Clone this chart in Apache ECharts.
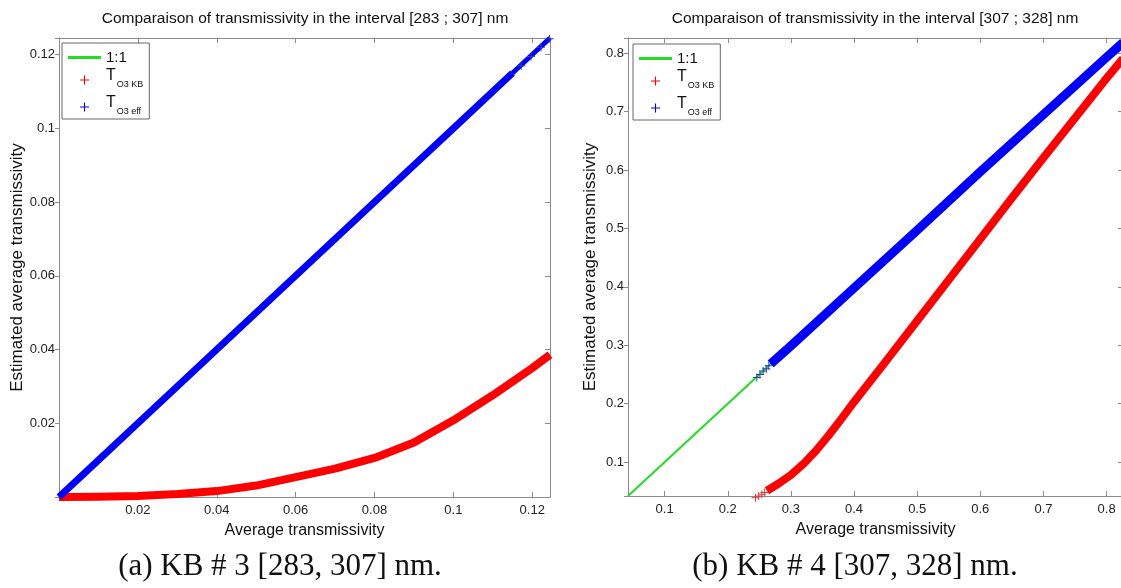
<!DOCTYPE html>
<html>
<head>
<meta charset="utf-8">
<script src="https://cdn.jsdelivr.net/npm/echarts@6/dist/echarts.min.js"></script>
<style>
html,body{margin:0;padding:0;background:#fff;}
#c{width:1121px;height:588px;}
</style>
</head>
<body>
<div id="c"></div>
<script>
// ---------- data ----------
const titleLeft = 'Comparaison of transmissivity in the interval [283 ; 307] nm';
const titleRight = 'Comparaison of transmissivity in the interval [307 ; 328] nm';
const captionLeft = '(a) KB # 3 [283, 307] nm.';
const captionRight = '(b) KB # 4 [307, 328] nm.';
const xName = 'Average transmissivity';
const yName = 'Estimated average transmissivity';
const seriesNames = ['1:1', 'T_O3 KB', 'T_O3 eff'];

const leftTickLabels = ['0.02', '0.04', '0.06', '0.08', '0.1', '0.12'];
const rightTickLabels = ['0.1', '0.2', '0.3', '0.4', '0.5', '0.6', '0.7', '0.8'];

// panel (a)
const leftOneToOne = [[0, 0], [0.1245, 0.1245]];
const leftKB = [[0, 0], [0.01, 0.0001], [0.02, 0.0003], [0.03, 0.0008], [0.04, 0.0016],
  [0.05, 0.0031], [0.06, 0.0054], [0.07, 0.0077], [0.08, 0.0106], [0.09, 0.0148],
  [0.10, 0.0208], [0.11, 0.0276], [0.12, 0.0350], [0.1245, 0.0386]];
const leftEff = [[0, 0], [0.01, 0.0100], [0.02, 0.0200], [0.04, 0.0400], [0.06, 0.0600],
  [0.08, 0.0800], [0.10, 0.1000], [0.115, 0.1150]];
const leftEffTop = [[0.115, 0.1150], [0.1245, 0.1245]];
const leftEffSparse = [[0.1172, 0.1170], [0.1197, 0.1195], [0.1222, 0.1220], [0.1244, 0.1243]];

// panel (b)
const rightOneToOne = [[0.042, 0.042], [0.826, 0.826]];
const rightKB = [[0.262, 0.051], [0.28, 0.063], [0.30, 0.078], [0.32, 0.097],
  [0.34, 0.120], [0.36, 0.146], [0.38, 0.174], [0.40, 0.203], [0.45, 0.272], [0.50, 0.342],
  [0.55, 0.412], [0.60, 0.482], [0.65, 0.552], [0.70, 0.621], [0.75, 0.689], [0.80, 0.757],
  [0.826, 0.791]];
const rightKBSparse = [[0.244, 0.039], [0.249, 0.042], [0.254, 0.045], [0.258, 0.048]];
const rightEff = [[0.268, 0.268], [0.30, 0.299], [0.40, 0.398], [0.50, 0.497], [0.60, 0.597],
  [0.70, 0.695], [0.80, 0.793], [0.826, 0.818]];
const rightEffSparse = [[0.246, 0.245], [0.251, 0.250], [0.256, 0.256], [0.261, 0.260], [0.265, 0.265]];

// ---------- styling ----------
const SANS = '"Liberation Sans", Arial, sans-serif';
const SERIF = '"Liberation Serif", "Times New Roman", serif';
const AXIS = '#8a8a8a';
const GREEN = '#22dd22', RED = '#ff0000', BLUE = '#0000ff';
const PLUS = 'path://M4.4,0H5.6V4.4H10V5.6H5.6V10H4.4V5.6H0V4.4H4.4Z';
const BAR = 'path://M0,0H33V3H0Z';

function fmt(labels) {
  return function (v) {
    const s = String(+(+v).toFixed(4));
    return labels.indexOf(s) >= 0 ? s : '';
  };
}

function makeX(grid, pos, min, max, tickOpt, labels, withName) {
  return Object.assign({
    type: 'value', gridIndex: grid, position: pos, min: min, max: max,
    axisLine: { show: true, onZero: false, lineStyle: { color: AXIS, width: 1 } },
    axisTick: { show: true, inside: true, length: 5, lineStyle: { color: AXIS } },
    axisLabel: withName ? { show: true, color: '#222', fontSize: 13, fontFamily: SANS, margin: 7, formatter: fmt(labels) } : { show: false },
    splitLine: { show: false },
    name: withName ? xName : '',
    nameLocation: 'middle', nameGap: 26,
    nameTextStyle: { color: '#111', fontSize: 16, fontFamily: SANS }
  }, tickOpt);
}
function makeY(grid, pos, min, max, tickOpt, labels, withName, nameGap) {
  return Object.assign({
    type: 'value', gridIndex: grid, position: pos, min: min, max: max,
    axisLine: { show: true, onZero: false, lineStyle: { color: AXIS, width: 1 } },
    axisTick: { show: true, inside: !withName, length: withName ? 4 : 5, lineStyle: { color: AXIS } },
    axisLabel: withName ? { show: true, color: '#222', fontSize: 13, fontFamily: SANS, margin: 4, formatter: fmt(labels) } : { show: false },
    splitLine: { show: false },
    name: withName ? yName : '',
    nameLocation: 'middle', nameGap: nameGap || 30, nameRotate: 90,
    nameTextStyle: { color: '#111', fontSize: 17, fontFamily: SANS }
  }, tickOpt);
}

function legendFor(left, top) {
  return {
    orient: 'vertical', left: left, top: top,
    backgroundColor: '#fff', borderColor: '#666', borderWidth: 1,
    padding: [7, 6, 0, 6], itemGap: 3, itemWidth: 33, itemHeight: 9,
    symbolKeepAspect: true, selectedMode: false,
    data: [
      { name: seriesNames[0], icon: BAR, itemStyle: { color: GREEN, borderWidth: 0 } },
      { name: seriesNames[1], icon: PLUS, itemStyle: { color: RED, borderWidth: 0 } },
      { name: seriesNames[2], icon: PLUS, itemStyle: { color: BLUE, borderWidth: 0 } }
    ],
    formatter: function (name) {
      if (name === '1:1') return '{n|1:1}';
      return '{t|T}{s|' + name.slice(2) + '}';
    },
    textStyle: {
      color: '#111', fontFamily: SANS,
      rich: {
        n: { fontSize: 15, lineHeight: 18, fontFamily: SANS, color: '#111' },
        t: { fontSize: 16, lineHeight: 16, padding: [0, 0, 8, 0], fontFamily: SANS, color: '#111' },
        s: { fontSize: 9, lineHeight: 9, padding: [10, 0, 0, 1], fontFamily: SANS, color: '#111' }
      }
    }
  };
}

function lineSeries(name, data, xi, yi, color, width, z) {
  return {
    name: name, type: 'line', xAxisIndex: xi, yAxisIndex: yi, data: data,
    symbol: 'none', smooth: false, clip: false, silent: true, z: z,
    lineStyle: { color: color, width: width, cap: 'butt', join: 'round' },
    itemStyle: { color: color }
  };
}
function plusSeries(name, data, xi, yi, color, z) {
  return {
    name: name, type: 'scatter', xAxisIndex: xi, yAxisIndex: yi, data: data,
    symbol: PLUS, symbolSize: 8, clip: false, silent: true, z: z,
    itemStyle: { color: color, opacity: 1 }
  };
}

const chart = echarts.init(document.getElementById('c'), null, { renderer: 'canvas' });
chart.setOption({
  animation: false,
  backgroundColor: '#fff',
  grid: [
    { left: 59, top: 38, width: 491, height: 459, containLabel: false, outerBoundsMode: 'none' },
    { left: 628, top: 38, width: 495, height: 458, containLabel: false, outerBoundsMode: 'none' }
  ],
  xAxis: [
    makeX(0, 'bottom', 0, 0.1245, { interval: 0.02 }, leftTickLabels, true),
    makeX(0, 'top', 0, 0.1245, { interval: 0.02 }, leftTickLabels, false),
    makeX(1, 'bottom', 0.042, 0.826, { splitNumber: 8 }, rightTickLabels, true),
    makeX(1, 'top', 0.042, 0.826, { splitNumber: 8 }, rightTickLabels, false)
  ],
  yAxis: [
    makeY(0, 'left', 0, 0.1245, { interval: 0.02 }, leftTickLabels, true, 33),
    makeY(0, 'right', 0, 0.1245, { interval: 0.02 }, leftTickLabels, false),
    makeY(1, 'left', 0.042, 0.826, { splitNumber: 8 }, rightTickLabels, true, 29),
    makeY(1, 'right', 0.042, 0.826, { splitNumber: 8 }, rightTickLabels, false)
  ],
  legend: [legendFor(62, 43), legendFor(633, 44)],
  series: [
    lineSeries(seriesNames[0], leftOneToOne, 0, 0, GREEN, 2, 2),
    lineSeries(seriesNames[1], leftKB, 0, 0, RED, 8, 3),
    lineSeries(seriesNames[2], leftEff, 0, 0, BLUE, 7, 4),
    lineSeries(seriesNames[2], leftEffTop, 0, 0, BLUE, 5, 4),
    plusSeries(seriesNames[2], leftEffSparse, 0, 0, '#2b3fb8', 5),
    lineSeries(seriesNames[0], rightOneToOne, 2, 2, GREEN, 2, 2),
    lineSeries(seriesNames[1], rightKB, 2, 2, RED, 8, 3),
    plusSeries(seriesNames[1], rightKBSparse, 2, 2, '#d83a3a', 3),
    lineSeries(seriesNames[2], rightEff, 2, 2, BLUE, 9, 4),
    plusSeries(seriesNames[2], rightEffSparse, 2, 2, '#2b3fb8', 5)
  ],
  graphic: [
    { type: 'text', x: 305, y: 19, style: { text: titleLeft, font: '15.5px ' + SANS, fill: '#111', align: 'center', verticalAlign: 'middle' } },
    { type: 'text', x: 875, y: 19, style: { text: titleRight, font: '15.5px ' + SANS, fill: '#111', align: 'center', verticalAlign: 'middle' } },
    { type: 'text', x: 280, y: 567, style: { text: captionLeft, font: '31px ' + SERIF, fill: '#111', align: 'center', verticalAlign: 'middle' } },
    { type: 'text', x: 855, y: 567, style: { text: captionRight, font: '31px ' + SERIF, fill: '#111', align: 'center', verticalAlign: 'middle' } }
  ]
});
</script>
</body>
</html>
